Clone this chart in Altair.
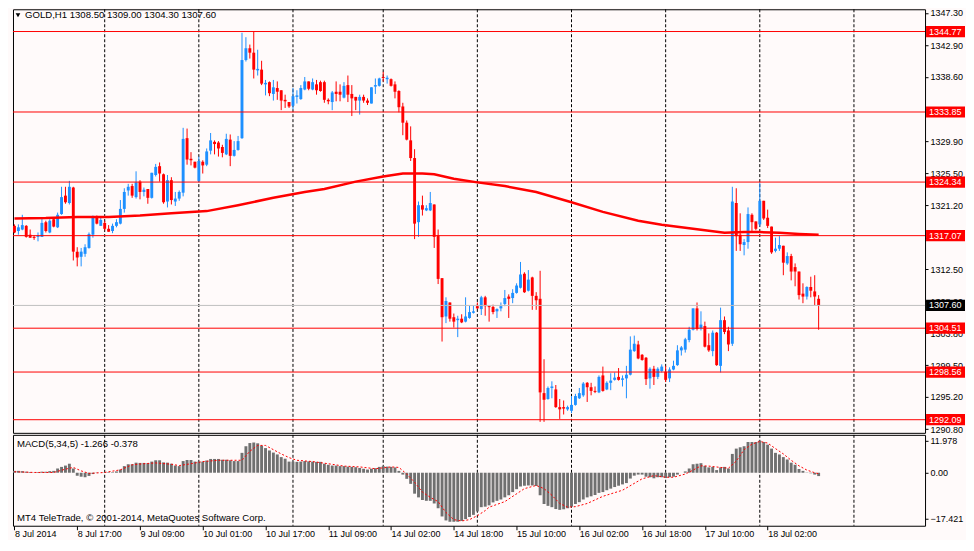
import json
import altair as alt
import pandas as pd

# ---------------- data ----------------
opens = [1318.4,1317.7,1317.9,1318.4,1317.2,1316.9,1316.9,1316.9,1318.9,1317.5,
 1319.3,1318.2,1320.0,1322.5,1321.5,1323.6,1314.9,1314.2,1314.6,1315.4,
 1317.2,1319.6,1318.4,1318.8,1318.0,1317.7,1318.4,1318.7,1320.7,1323.2,
 1323.8,1322.3,1324.4,1323.0,1323.4,1322.2,1325.3,1326.5,1325.4,1321.7,
 1324.6,1321.7,1322.1,1322.9,1330.3,1327.5,1327.1,1324.5,1327.1,1326.7,
 1328.6,1329.8,1329.7,1329.1,1328.1,1330.1,1327.9,1328.7,1330.3,1340.9,
 1342.5,1341.9,1339.5,1339.6,1337.6,1337.9,1336.3,1337.1,1336.8,1335.5,
 1335.2,1334.7,1335.9,1335.6,1336.9,1338.0,1336.9,1337.6,1337.9,1337.9,
 1335.5,1335.2,1336.6,1336.6,1335.8,1337.5,1336.3,1335.9,1335.4,1335.9,
 1335.4,1335.0,1337.3,1337.4,1338.6,1338.3,1338.3,1337.6,1336.7,1334.6,
 1332.4,1330.0,1327.6,1318.9,1321.2,1320.5,1320.5,1321.3,1317.1,1311.3,
 1306.1,1308.0,1306.0,1305.6,1305.8,1305.4,1305.9,1306.6,1307.5,1307.1,
 1308.7,1307.5,1307.4,1306.8,1307.2,1307.8,1308.8,1308.6,1309.3,1310.0,
 1311.9,1309.6,1311.4,1308.9,1308.5,1295.7,1294.9,1296.4,1296.2,1293.8,
 1293.8,1293.5,1293.3,1294.1,1295.0,1295.4,1297.1,1296.5,1296.0,1295.8,
 1298.1,1296.2,1297.1,1297.5,1297.9,1297.5,1297.7,1298.2,1301.4,1302.3,
 1300.9,1300.5,1297.7,1299.0,1297.9,1298.7,1298.6,1297.7,1298.9,1299.5,
 1301.5,1301.6,1302.9,1304.3,1307.2,1304.5,1304.8,1302.2,1301.4,1303.9,
 1299.4,1305.6,1304.2,1302.4,1321.5,1317.2,1315.8,1316.2,1319.9,1319.0,
 1318.6,1321.8,1319.5,1318.3,1315.0,1315.3,1315.7,1313.3,1314.3,1312.8,
 1312.2,1309.2,1308.8,1310.1,1309.5,1308.5]
highs = [1318.6,1318.6,1319.9,1318.5,1317.9,1317.1,1317.5,1319.5,1319.1,1319.3,
 1319.4,1320.2,1323.7,1323.7,1324.5,1323.7,1315.5,1315.4,1315.9,1317.5,
 1319.8,1319.8,1319.5,1319.1,1318.5,1318.7,1319.3,1321.9,1323.5,1324.1,
 1324.1,1325.8,1324.6,1323.6,1323.4,1325.6,1326.8,1327.0,1325.5,1325.3,
 1325.0,1323.0,1323.2,1331.7,1331.6,1328.4,1327.1,1327.8,1327.3,1328.9,
 1331.0,1330.0,1329.9,1329.4,1330.9,1330.8,1329.9,1330.6,1344.6,1344.0,
 1343.0,1344.8,1342.3,1340.8,1338.2,1338.0,1338.2,1338.0,1336.8,1336.2,
 1335.2,1337.1,1336.8,1337.5,1338.6,1338.0,1338.4,1338.2,1338.1,1338.1,
 1335.7,1336.7,1338.0,1337.6,1337.9,1338.8,1337.5,1335.9,1336.2,1336.2,
 1335.7,1337.2,1338.4,1338.5,1339.3,1338.8,1338.4,1338.0,1336.8,1335.1,
 1332.7,1331.9,1328.8,1321.7,1322.5,1321.2,1323.0,1321.3,1317.9,1311.3,
 1308.7,1308.0,1306.5,1306.2,1306.4,1308.7,1307.6,1307.6,1308.0,1308.9,
 1308.9,1307.5,1307.7,1307.2,1308.0,1309.7,1309.1,1309.8,1310.6,1313.5,
 1312.1,1312.4,1311.5,1309.4,1312.3,1300.3,1296.6,1297.3,1296.8,1294.9,
 1294.7,1294.0,1295.3,1295.6,1296.4,1297.2,1297.2,1297.1,1296.6,1298.1,
 1299.3,1297.3,1298.4,1298.5,1299.1,1298.1,1299.4,1303.4,1303.5,1302.8,
 1301.0,1300.6,1299.2,1299.4,1299.2,1299.6,1299.4,1299.2,1300.1,1302.2,
 1302.1,1303.2,1304.7,1307.2,1308.0,1306.8,1305.4,1303.8,1304.2,1304.0,
 1307.3,1306.1,1304.7,1323.7,1323.5,1320.1,1316.6,1320.9,1320.1,1319.0,
 1324.3,1321.8,1320.6,1318.3,1316.8,1317.0,1315.7,1314.8,1314.6,1313.3,
 1312.2,1310.6,1310.2,1311.5,1311.7,1309.0]
lows = [1317.4,1317.2,1317.8,1316.8,1316.8,1316.5,1316.3,1316.9,1317.5,1317.4,
 1318.2,1318.1,1319.9,1321.4,1321.3,1313.7,1312.9,1312.9,1314.2,1315.3,
 1316.8,1318.6,1318.4,1317.8,1317.6,1317.4,1318.2,1318.6,1320.2,1322.5,
 1322.2,1322.1,1322.0,1322.4,1321.4,1322.1,1325.1,1324.4,1321.4,1320.9,
 1321.3,1321.1,1321.8,1322.4,1326.7,1326.6,1326.2,1324.3,1325.5,1326.5,
 1328.1,1328.1,1327.8,1327.7,1328.0,1326.5,1327.8,1328.6,1330.2,1340.7,
 1341.1,1338.4,1338.8,1337.5,1336.1,1336.0,1335.4,1335.5,1334.1,1334.4,
 1334.4,1334.2,1335.0,1335.5,1336.8,1336.8,1336.8,1336.2,1336.6,1335.1,
 1334.9,1334.1,1335.3,1335.3,1335.7,1335.2,1333.3,1334.1,1333.5,1335.1,
 1334.8,1335.0,1336.3,1337.3,1338.0,1337.7,1337.3,1335.7,1333.8,1330.7,
 1330.0,1327.2,1316.6,1316.9,1319.8,1320.4,1320.4,1315.4,1310.5,1302.7,
 1305.2,1305.4,1304.6,1303.3,1305.2,1305.3,1305.8,1306.5,1307.1,1306.3,
 1306.2,1305.4,1306.4,1305.9,1306.8,1307.5,1305.9,1307.9,1309.2,1309.9,
 1309.3,1309.5,1307.0,1307.0,1291.8,1291.8,1294.8,1295.0,1293.7,1292.2,
 1292.8,1293.3,1293.0,1294.0,1294.9,1295.2,1294.5,1295.4,1295.7,1295.7,
 1295.9,1296.1,1296.1,1297.4,1297.4,1296.6,1295.0,1298.1,1301.3,1300.3,
 1300.1,1296.8,1296.3,1296.8,1297.6,1298.5,1297.2,1297.2,1298.8,1299.4,
 1300.8,1301.2,1302.6,1304.2,1304.2,1304.2,1301.9,1301.3,1300.7,1299.4,
 1298.5,1303.7,1301.4,1302.1,1315.0,1315.0,1314.4,1315.3,1317.7,1317.8,
 1318.3,1319.2,1318.1,1314.6,1314.8,1315.0,1311.7,1313.1,1311.0,1310.2,
 1308.4,1307.9,1308.4,1308.7,1307.6,1304.3]
closes = [1317.5,1318.2,1318.5,1316.9,1316.8,1316.8,1317.1,1318.8,1317.7,1319.1,
 1318.3,1319.9,1322.3,1321.6,1323.7,1314.9,1314.1,1314.9,1315.5,1317.3,
 1319.6,1318.7,1319.2,1318.0,1317.6,1318.4,1318.9,1320.7,1323.0,1323.7,
 1322.5,1324.3,1323.0,1323.3,1322.2,1325.6,1326.4,1325.5,1321.6,1324.6,
 1321.9,1322.1,1323.0,1330.2,1327.4,1327.3,1326.3,1327.2,1326.6,1328.5,
 1330.0,1329.5,1328.9,1328.3,1330.2,1327.9,1328.7,1329.9,1340.9,1342.5,
 1341.9,1339.6,1339.7,1337.7,1337.8,1336.4,1337.2,1336.6,1335.4,1335.3,
 1334.6,1336.0,1336.1,1337.1,1338.0,1337.0,1337.9,1336.8,1336.7,1335.5,
 1335.3,1336.5,1336.3,1336.2,1337.4,1336.2,1335.7,1335.4,1335.9,1335.4,
 1335.1,1337.2,1337.5,1338.4,1338.5,1338.5,1337.4,1336.6,1334.5,1332.4,
 1330.1,1327.6,1318.7,1321.2,1320.6,1320.8,1321.5,1316.9,1311.2,1306.0,
 1308.2,1305.8,1305.4,1305.8,1305.3,1306.1,1306.7,1306.8,1307.2,1308.7,
 1307.5,1307.4,1306.7,1307.1,1307.5,1308.6,1308.5,1309.3,1310.3,1311.8,
 1309.4,1311.1,1308.9,1308.3,1295.8,1294.8,1296.4,1296.6,1293.8,1293.5,
 1293.6,1293.8,1294.1,1295.3,1295.7,1297.0,1296.5,1296.0,1295.9,1297.9,
 1296.0,1297.1,1297.4,1297.8,1297.5,1297.7,1298.2,1301.6,1302.4,1300.4,
 1300.2,1297.6,1299.0,1297.9,1299.0,1299.3,1297.5,1298.9,1299.4,1301.5,
 1301.9,1303.0,1304.3,1307.2,1304.4,1305.0,1302.0,1301.5,1303.9,1299.5,
 1305.6,1304.0,1302.3,1321.7,1317.0,1315.9,1316.2,1320.0,1318.9,1318.0,
 1321.8,1319.4,1318.4,1314.8,1315.3,1315.8,1313.4,1314.3,1312.2,1312.2,
 1309.0,1308.8,1310.1,1309.6,1308.8,1307.6]
macd_hist = [0.7,0.7,0.6,0.4,0.25,0.1,0.25,0.4,0.4,0.6,
 0.7,1.6,2.2,2.7,3.4,1.6,-1.1,-1.5,-1.7,-1.2,
 -0.5,-0.1,0.0,0.1,0.2,0.2,0.5,1.2,2.5,3.2,
 3.2,3.8,3.7,3.7,3.6,4.2,4.7,4.7,3.9,3.8,
 3.4,2.7,2.5,4.4,4.8,4.8,4.2,4.2,4.2,4.6,
 5.2,5.2,5.2,4.9,4.9,4.7,4.4,4.4,7.5,10.0,
 11.2,11.4,11.1,10.2,9.3,8.4,7.6,6.9,5.9,5.3,
 4.2,4.2,4.1,4.2,4.4,4.3,4.2,4.1,4.1,3.4,
 3.0,2.7,2.7,2.5,2.5,2.3,2.2,2.1,1.8,1.5,
 1.2,1.5,1.7,2.2,2.5,2.3,2.2,2.0,0.7,-0.7,
 -2.3,-4.2,-7.9,-9.3,-10.3,-10.6,-10.6,-11.6,-13.4,-16.5,
 -18.0,-18.5,-18.5,-18.5,-18.2,-17.5,-16.7,-15.9,-14.6,-13.0,
 -12.8,-12.3,-11.2,-10.6,-10.1,-9.3,-8.5,-7.3,-6.2,-5.2,
 -4.9,-4.8,-4.8,-5.0,-8.5,-11.8,-12.5,-13.0,-13.7,-14.0,
 -13.8,-13.4,-12.8,-11.8,-11.1,-10.1,-9.3,-8.9,-8.4,-7.6,
 -7.3,-6.6,-6.0,-5.4,-4.9,-4.4,-3.9,-2.2,-1.1,-0.7,
 -0.7,-1.5,-1.7,-2.1,-1.7,-1.7,-2.0,-1.7,-1.5,-0.7,
 0.0,0.5,1.6,3.2,3.4,3.6,2.6,2.0,2.2,1.0,
 2.0,2.2,1.6,7.1,9.1,9.6,10.0,11.6,11.6,11.6,
 12.1,11.6,10.6,9.1,7.5,6.9,5.9,5.0,3.8,3.0,
 1.4,0.7,0.1,-0.2,-0.7,-1.266]
signal_idx = [0,5,10,13,15,17,19,23,27,30,33,36,40,42,45,48,52,56,58,60,62,64,66,68,70,72,76,80,84,88,
 92,96,98,100,102,104,106,108,110,112,114,116,118,120,121,125,130,133,135,137,139,141,143,146,150,155,
 160,163,166,168,171,173,175,177,180,182,184,186,188,190,192,194,196,198,200,202,204,205]
signal_val = [0.37,0.1,0.1,1.35,2.0,0.7,-0.25,0.1,1.1,3.0,3.4,3.7,3.2,2.7,3.4,4.2,4.7,4.7,4.7,8.1,10.3,10.3,
 8.7,7.1,5.7,4.7,4.2,3.4,2.5,2.2,1.5,2.2,2.0,-0.5,-3.6,-7.3,-9.3,-10.9,-15.0,-17.7,-18.2,-17.7,-16.2,
 -14.3,-13.0,-10.9,-6.0,-4.8,-6.0,-8.5,-11.6,-13.0,-12.8,-11.6,-8.9,-6.6,-2.3,-1.1,-1.7,-1.7,-0.5,1.0,
 2.6,2.5,2.0,1.7,4.4,8.7,10.8,11.8,11.2,9.1,7.1,4.7,2.6,1.0,0.0,-0.378]
ma_idx = [0,8,16,24,32,40,49,57,66,74,79,87,94,99,104,107,112,118,125,133,142,150,159,165,173,181,186,190,195,200,205]
ma_val = [1319.4,1319.45,1319.6,1319.6,1319.8,1320.1,1320.4,1321.2,1322.2,1323.0,1323.4,1324.4,1325.1,1325.5,
 1325.5,1325.4,1324.8,1324.3,1323.8,1323.0,1321.6,1320.3,1319.1,1318.55,1318.0,1317.45,1317.55,1317.55,
 1317.45,1317.3,1317.2]
levels = [1344.77, 1333.85, 1324.34, 1317.07, 1304.51, 1298.56, 1292.09]
last_price = 1307.60
price_ticks = [1347.30, 1342.90, 1338.60, 1334.20, 1329.90, 1325.50, 1321.20, 1316.80,
               1312.50, 1308.20, 1303.80, 1299.50, 1295.20, 1290.80]
macd_ticks = [11.978, 0.0, -17.421]
day_breaks = [23, 47, 71, 94, 118, 142, 166, 190, 214]
time_tick_idx = [0, 16, 32, 48, 64, 80, 96, 112, 128, 144, 160, 176, 192]
time_tick_labels = ["8 Jul 2014", "8 Jul 17:00", "9 Jul 09:00", "10 Jul 01:00", "10 Jul 17:00",
                    "11 Jul 09:00", "14 Jul 02:00", "14 Jul 18:00", "15 Jul 10:00", "16 Jul 02:00",
                    "16 Jul 18:00", "17 Jul 10:00", "18 Jul 02:00"]
title_text = "GOLD,H1  1308.50 1309.00 1304.30 1307.60"
macd_text = "MACD(5,34,5) -1.266 -0.378"
copy_text = "MT4 TeleTrade, \u00a9 2001-2014, MetaQuotes Software Corp."

assert len(opens) == len(highs) == len(lows) == len(closes) == len(macd_hist) == 206
assert len(signal_idx) == len(signal_val) and len(ma_idx) == len(ma_val)

# ---------------- styling ----------------
BG = "#FFFAFA"
BLUE = "#1E90FF"
RED = "#FF0000"
GRAY = "#707070"
FONT = "Liberation Sans"
FS = 9
FS_T = 9.6
W, H1, H2 = 913, 424, 91
BOX_L, BOX_R = W + 1, W + 40
xs = alt.Scale(domain=[-0.375, 232.125], nice=False, zero=False)
ps = alt.Scale(domain=[1290.31, 1347.79], nice=False, zero=False)
ms = alt.Scale(domain=[-20.0, 14.3], nice=False, zero=False)

price_axis = alt.Axis(orient="right", values=price_ticks, format=".2f", tickSize=3, labelPadding=2,
                      grid=False, domain=False, title=None, labelFont=FONT, labelFontSize=FS,
                      labelColor="black", tickColor="black", labelOverlap=False, labelFlush=False,
                      labelBound=False, zindex=0)
macd_axis = alt.Axis(orient="right", values=macd_ticks,
                     labelExpr="datum.value == 0 ? '0.00' : format(datum.value, '.3f')",
                     tickSize=3, labelPadding=2, grid=False, domain=False, title=None,
                     labelFont=FONT, labelFontSize=FS, labelColor="black", tickColor="black",
                     labelOverlap=False, labelFlush=False, zindex=0)
time_axis = alt.Axis(values=time_tick_idx,
                     labelExpr=json.dumps(time_tick_labels) + "[round(datum.value / 16)]",
                     labelAlign="left", labelBaseline="top", tickSize=4, labelPadding=0,
                     grid=False, domain=False, title=None, labelFont=FONT, labelFontSize=FS,
                     labelColor="black", tickColor="black", labelOverlap=False, labelFlush=False,
                     labelBound=False)

def X(field, axis=None):
    return alt.X(field, type="quantitative", scale=xs, axis=axis)

def PY(field):
    return alt.Y(field, type="quantitative", scale=ps, axis=price_axis)

def MY(field):
    return alt.Y(field, type="quantitative", scale=ms, axis=macd_axis)

candles = pd.DataFrame({"i": range(206), "o": opens, "h": highs, "l": lows, "c": closes, "m": macd_hist})
days = pd.DataFrame({"d": day_breaks})
ma = pd.DataFrame({"i": ma_idx, "v": ma_val})
sig = pd.DataFrame({"i": signal_idx, "v": signal_val})
lv = pd.DataFrame({"p": levels + [last_price],
                   "lbl": [f"{v:.2f}" for v in levels] + [f"{last_price:.2f}"],
                   "bg": [RED] * len(levels) + ["#000000"]})
one = pd.DataFrame({"k": [0]})

color = alt.condition("datum.c >= datum.o", alt.value(BLUE), alt.value(RED))

cbase = alt.Chart(candles).transform_calculate(
    x0="datum.i - 0.37", x1="datum.i + 0.37",
    bt="max(datum.o, datum.c)", bb="min(datum.o, datum.c)"
).transform_calculate(bb2="datum.bt - datum.bb < 0.13 ? datum.bt - 0.13 : datum.bb")

grid_top = alt.Chart(days).mark_rule(color="black", strokeDash=[3, 2], strokeWidth=1).encode(x=X("d"))
wicks = cbase.mark_rule(strokeWidth=1).encode(x=X("i"), y=PY("l"), y2="h:Q", color=color)
bodies = cbase.mark_rect().encode(x=X("x0"), x2="x1:Q", y=PY("bt"), y2="bb2:Q", color=color)
ma_line = alt.Chart(ma).mark_line(color=RED, strokeWidth=2.5).encode(x=X("i"), y=PY("v"))
hlines = alt.Chart(lv).mark_rule(strokeWidth=1).encode(
    y=PY("p"), color=alt.condition("datum.bg == '#000000'", alt.value("#C0C0C0"), alt.value(RED)))
boxes = alt.Chart(lv).transform_calculate(t="datum.p + 0.76", b="datum.p - 0.76").mark_rect().encode(
    x=alt.value(BOX_L), x2=alt.value(BOX_R), y=PY("t"), y2="b:Q", color=alt.Color("bg:N", scale=None))
box_txt = alt.Chart(lv).mark_text(align="left", baseline="middle", font=FONT, fontSize=FS, color="white").encode(
    x=alt.value(BOX_L + 3), y=PY("p"), text="lbl:N")
tri = alt.Chart(one).mark_point(shape="triangle-down", filled=True, size=22, color="black", opacity=1).encode(
    x=alt.value(5), y=alt.value(6))
ttl = alt.Chart(one).mark_text(align="left", baseline="middle", font=FONT, fontSize=FS_T, color="black").encode(
    x=alt.value(12), y=alt.value(6), text=alt.value(title_text))

top = alt.layer(grid_top, wicks, bodies, ma_line, hlines, boxes, box_txt, tri, ttl).properties(width=W, height=H1)

grid_bot = alt.Chart(days).mark_rule(color="black", strokeDash=[3, 2], strokeWidth=1).encode(x=X("d", time_axis))
hist = alt.Chart(candles).transform_calculate(x0="datum.i - 0.37", x1="datum.i + 0.37", z="0").mark_rect(
    color=GRAY).encode(x=X("x0", time_axis), x2="x1:Q", y=MY("m"), y2="z:Q")
sig_line = alt.Chart(sig).mark_line(color=RED, strokeWidth=1, strokeDash=[2, 2]).encode(
    x=X("i", time_axis), y=MY("v"))
mtxt = alt.Chart(one).mark_text(align="left", baseline="middle", font=FONT, fontSize=FS_T, color="black").encode(
    x=alt.value(4), y=alt.value(9), text=alt.value(macd_text))
ctxt = alt.Chart(one).mark_text(align="left", baseline="middle", font=FONT, fontSize=FS_T, color="black").encode(
    x=alt.value(4), y=alt.value(83), text=alt.value(copy_text))

bottom = alt.layer(grid_bot, hist, sig_line, mtxt, ctxt).properties(width=W, height=H2)

chart = alt.vconcat(top, bottom, spacing=2, bounds="flush").properties(
    padding={"left": 0, "top": 0, "right": 0, "bottom": 0}, background=BG
).configure(padding={"left": 0, "top": 0, "right": 0, "bottom": 0}).configure_view(stroke="black", strokeWidth=1)

chart.save("out.html", embed_options={"renderer": "svg", "actions": False})
